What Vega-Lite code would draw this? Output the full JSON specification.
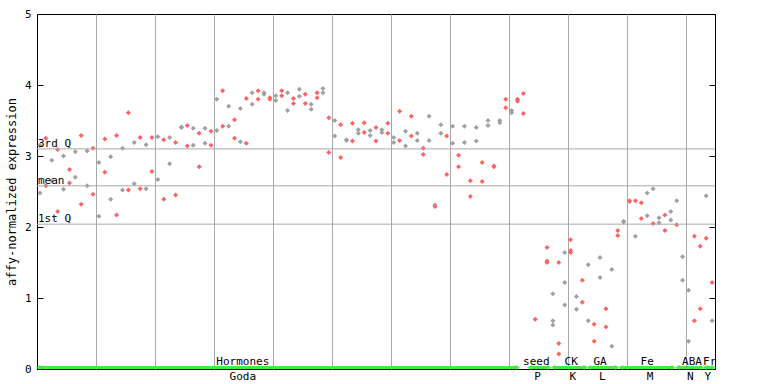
{
  "$schema": "https://vega.github.io/schema/vega-lite/v6.json",
  "width": 678,
  "height": 355,
  "autosize": {"type": "none"},
  "padding": {"left": 37, "top": 14, "right": 53, "bottom": 15},
  "background": "white",
  "config": {
    "view": {"stroke": "black", "strokeWidth": 1},
    "font": "DejaVu Sans Mono",
    "axis": {"labelFont": "DejaVu Sans Mono", "titleFont": "DejaVu Sans Mono", "labelColor": "black", "titleColor": "black", "tickColor": "black", "domainColor": "black"},
    "axisX": {"grid": true, "gridColor": "#a8a8a8", "gridOpacity": 1, "labels": false, "ticks": false, "domain": false}
  },
  "datasets": {
    "pts": [
      {"s":0,"v":3.15,"c":"g"},{"s":0,"v":2.48,"c":"g"},
      {"s":1,"v":3.25,"c":"r"},{"s":1,"v":2.58,"c":"r"},
      {"s":2,"v":2.94,"c":"g"},{"s":2,"v":2.65,"c":"g"},
      {"s":3,"v":3.09,"c":"r"},{"s":3,"v":2.22,"c":"r"},
      {"s":4,"v":3.00,"c":"g"},{"s":4,"v":2.53,"c":"g"},
      {"s":5,"v":2.81,"c":"r"},{"s":5,"v":2.62,"c":"r"},
      {"s":6,"v":3.06,"c":"g"},{"s":6,"v":2.70,"c":"g"},
      {"s":7,"v":3.29,"c":"r"},{"s":7,"v":2.32,"c":"r"},
      {"s":8,"v":3.07,"c":"g"},{"s":8,"v":2.58,"c":"g"},
      {"s":9,"v":3.11,"c":"r"},{"s":9,"v":2.46,"c":"r"},
      {"s":10,"v":2.91,"c":"g"},{"s":10,"v":2.15,"c":"g"},
      {"s":11,"v":3.24,"c":"r"},{"s":11,"v":2.77,"c":"r"},
      {"s":12,"v":2.99,"c":"g"},{"s":12,"v":2.39,"c":"g"},
      {"s":13,"v":3.29,"c":"r"},{"s":13,"v":2.17,"c":"r"},
      {"s":14,"v":3.11,"c":"g"},{"s":14,"v":2.52,"c":"g"},
      {"s":15,"v":3.61,"c":"r"},{"s":15,"v":2.52,"c":"r"},
      {"s":16,"v":3.19,"c":"g"},{"s":16,"v":2.61,"c":"g"},
      {"s":17,"v":3.26,"c":"r"},{"s":17,"v":2.54,"c":"r"},
      {"s":18,"v":3.16,"c":"g"},{"s":18,"v":2.54,"c":"g"},
      {"s":19,"v":3.26,"c":"r"},{"s":19,"v":2.78,"c":"r"},
      {"s":20,"v":3.27,"c":"g"},{"s":20,"v":2.67,"c":"g"},
      {"s":21,"v":3.23,"c":"r"},{"s":21,"v":2.39,"c":"r"},
      {"s":22,"v":3.26,"c":"g"},{"s":22,"v":2.89,"c":"g"},
      {"s":23,"v":3.19,"c":"r"},{"s":23,"v":2.45,"c":"r"},
      {"s":24,"v":3.41,"c":"g"},{"s":24,"v":3.40,"c":"g"},
      {"s":25,"v":3.43,"c":"r"},{"s":25,"v":3.14,"c":"r"},
      {"s":26,"v":3.39,"c":"g"},{"s":26,"v":3.15,"c":"g"},
      {"s":27,"v":3.32,"c":"r"},{"s":27,"v":2.85,"c":"r"},
      {"s":28,"v":3.39,"c":"g"},{"s":28,"v":3.18,"c":"g"},
      {"s":29,"v":3.35,"c":"r"},{"s":29,"v":3.15,"c":"r"},
      {"s":30,"v":3.80,"c":"g"},{"s":30,"v":3.36,"c":"g"},
      {"s":31,"v":3.92,"c":"r"},{"s":31,"v":3.42,"c":"r"},
      {"s":32,"v":3.70,"c":"g"},{"s":32,"v":3.42,"c":"g"},
      {"s":33,"v":3.51,"c":"r"},{"s":33,"v":3.25,"c":"r"},
      {"s":34,"v":3.67,"c":"g"},{"s":34,"v":3.20,"c":"g"},
      {"s":35,"v":3.81,"c":"r"},{"s":35,"v":3.18,"c":"r"},
      {"s":36,"v":3.89,"c":"g"},{"s":36,"v":3.73,"c":"g"},
      {"s":37,"v":3.92,"c":"r"},{"s":37,"v":3.80,"c":"r"},
      {"s":38,"v":3.89,"c":"g"},{"s":38,"v":3.87,"c":"g"},
      {"s":39,"v":3.82,"c":"r"},{"s":39,"v":3.80,"c":"r"},
      {"s":40,"v":3.85,"c":"g"},{"s":40,"v":3.78,"c":"g"},
      {"s":41,"v":3.92,"c":"r"},{"s":41,"v":3.85,"c":"r"},
      {"s":42,"v":3.89,"c":"g"},{"s":42,"v":3.64,"c":"g"},
      {"s":43,"v":3.81,"c":"r"},{"s":43,"v":3.74,"c":"r"},
      {"s":44,"v":3.94,"c":"g"},{"s":44,"v":3.84,"c":"g"},
      {"s":45,"v":3.87,"c":"r"},{"s":45,"v":3.74,"c":"r"},
      {"s":46,"v":3.73,"c":"g"},{"s":46,"v":3.66,"c":"g"},
      {"s":47,"v":3.89,"c":"r"},{"s":47,"v":3.82,"c":"r"},
      {"s":48,"v":3.95,"c":"g"},{"s":48,"v":3.89,"c":"g"},
      {"s":49,"v":3.54,"c":"r"},{"s":49,"v":3.05,"c":"r"},
      {"s":50,"v":3.50,"c":"g"},{"s":50,"v":3.28,"c":"g"},
      {"s":51,"v":3.44,"c":"r"},{"s":51,"v":2.98,"c":"r"},
      {"s":52,"v":3.23,"c":"g"},{"s":52,"v":3.22,"c":"g"},
      {"s":53,"v":3.46,"c":"r"},{"s":53,"v":3.21,"c":"r"},
      {"s":54,"v":3.37,"c":"g"},{"s":54,"v":3.32,"c":"g"},
      {"s":55,"v":3.47,"c":"r"},{"s":55,"v":3.33,"c":"r"},
      {"s":56,"v":3.36,"c":"g"},{"s":56,"v":3.29,"c":"g"},
      {"s":57,"v":3.40,"c":"r"},{"s":57,"v":3.21,"c":"r"},
      {"s":58,"v":3.37,"c":"g"},{"s":58,"v":3.33,"c":"g"},
      {"s":59,"v":3.46,"c":"r"},{"s":59,"v":3.32,"c":"r"},
      {"s":60,"v":3.26,"c":"g"},{"s":60,"v":3.19,"c":"g"},
      {"s":61,"v":3.63,"c":"r"},{"s":61,"v":3.22,"c":"r"},
      {"s":62,"v":3.35,"c":"g"},{"s":62,"v":3.14,"c":"g"},
      {"s":63,"v":3.56,"c":"r"},{"s":63,"v":3.28,"c":"r"},
      {"s":64,"v":3.32,"c":"g"},{"s":64,"v":3.22,"c":"g"},
      {"s":65,"v":3.11,"c":"r"},{"s":65,"v":3.02,"c":"r"},
      {"s":66,"v":3.56,"c":"g"},{"s":66,"v":3.22,"c":"g"},
      {"s":67,"v":2.31,"c":"g"},{"s":67,"v":2.29,"c":"r"},
      {"s":68,"v":3.44,"c":"g"},{"s":68,"v":3.32,"c":"g"},
      {"s":69,"v":3.28,"c":"r"},{"s":69,"v":2.74,"c":"r"},
      {"s":70,"v":3.42,"c":"g"},{"s":70,"v":3.18,"c":"g"},
      {"s":71,"v":3.01,"c":"r"},{"s":71,"v":2.85,"c":"r"},
      {"s":72,"v":3.42,"c":"g"},{"s":72,"v":3.19,"c":"g"},
      {"s":73,"v":2.65,"c":"r"},{"s":73,"v":2.43,"c":"r"},
      {"s":74,"v":3.40,"c":"g"},{"s":74,"v":3.21,"c":"g"},
      {"s":75,"v":2.91,"c":"r"},{"s":75,"v":2.64,"c":"r"},
      {"s":76,"v":3.50,"c":"g"},{"s":76,"v":3.43,"c":"g"},
      {"s":77,"v":2.86,"c":"r"},{"s":77,"v":2.85,"c":"r"},
      {"s":78,"v":3.50,"c":"g"},{"s":78,"v":3.47,"c":"g"},
      {"s":79,"v":3.80,"c":"r"},{"s":79,"v":3.68,"c":"r"},
      {"s":80,"v":3.64,"c":"g"},{"s":80,"v":3.61,"c":"g"},
      {"s":81,"v":3.80,"c":"r"},{"s":81,"v":3.77,"c":"r"},
      {"s":82,"v":3.88,"c":"r"},{"s":82,"v":3.60,"c":"r"},
      {"s":84,"v":0.70,"c":"r"},
      {"s":86,"v":1.71,"c":"r"},{"s":86,"v":1.52,"c":"r"},{"s":86,"v":1.50,"c":"r"},
      {"s":87,"v":1.06,"c":"g"},{"s":87,"v":0.68,"c":"g"},{"s":87,"v":0.62,"c":"g"},
      {"s":88,"v":1.50,"c":"r"},{"s":88,"v":0.36,"c":"r"},{"s":88,"v":0.21,"c":"r"},
      {"s":89,"v":1.64,"c":"g"},{"s":89,"v":1.22,"c":"g"},{"s":89,"v":0.90,"c":"g"},
      {"s":90,"v":1.82,"c":"r"},{"s":90,"v":1.67,"c":"r"},{"s":90,"v":1.64,"c":"r"},
      {"s":91,"v":1.02,"c":"g"},{"s":91,"v":0.84,"c":"g"},
      {"s":92,"v":1.25,"c":"r"},{"s":92,"v":0.94,"c":"r"},
      {"s":93,"v":1.47,"c":"g"},{"s":93,"v":0.68,"c":"g"},
      {"s":94,"v":0.63,"c":"r"},{"s":94,"v":0.39,"c":"r"},
      {"s":95,"v":1.57,"c":"g"},{"s":95,"v":1.29,"c":"g"},
      {"s":96,"v":0.85,"c":"r"},{"s":96,"v":0.59,"c":"r"},
      {"s":97,"v":1.40,"c":"g"},{"s":97,"v":0.32,"c":"g"},
      {"s":98,"v":1.95,"c":"r"},{"s":98,"v":1.88,"c":"r"},
      {"s":99,"v":2.08,"c":"g"},{"s":99,"v":2.07,"c":"g"},
      {"s":100,"v":2.37,"c":"r"},{"s":100,"v":2.36,"c":"r"},
      {"s":101,"v":2.37,"c":"r"},{"s":101,"v":1.87,"c":"g"},
      {"s":102,"v":2.34,"c":"r"},{"s":102,"v":2.12,"c":"r"},
      {"s":103,"v":2.48,"c":"g"},{"s":103,"v":2.16,"c":"g"},
      {"s":104,"v":2.54,"c":"g"},{"s":104,"v":2.05,"c":"r"},
      {"s":105,"v":2.13,"c":"g"},{"s":105,"v":2.06,"c":"g"},
      {"s":106,"v":2.17,"c":"r"},{"s":106,"v":1.95,"c":"r"},
      {"s":107,"v":2.22,"c":"g"},{"s":107,"v":2.10,"c":"g"},
      {"s":108,"v":2.37,"c":"g"},{"s":108,"v":2.03,"c":"r"},
      {"s":109,"v":1.58,"c":"g"},{"s":109,"v":1.25,"c":"g"},
      {"s":110,"v":1.11,"c":"g"},{"s":110,"v":0.39,"c":"g"},
      {"s":111,"v":1.87,"c":"r"},{"s":111,"v":0.68,"c":"r"},
      {"s":112,"v":1.73,"c":"r"},{"s":112,"v":0.85,"c":"r"},
      {"s":113,"v":2.44,"c":"g"},{"s":113,"v":1.84,"c":"r"},
      {"s":114,"v":1.22,"c":"r"},{"s":114,"v":0.68,"c":"g"}
    ],
    "q": [
      {"name":"3rd Q","v":3.10},
      {"name":"mean","v":2.58},
      {"name":"1st Q","v":2.04}
    ],
    "grp": [
      {"t1":"Hormones","t2":"Goda","a":-0.3,"b":81.1,"l1":34.4,"l2":34.4},
      {"t1":"seed","t2":"P","a":83.0,"b":86.4,"l1":84.2,"l2":84.4},
      {"t1":"CK","t2":"K","a":87.0,"b":92.6,"l1":90.1,"l2":90.4},
      {"t1":"GA","t2":"L","a":93.1,"b":97.9,"l1":95.0,"l2":95.4},
      {"t1":"Fe","t2":"M","a":98.5,"b":107.5,"l1":103.0,"l2":103.5},
      {"t1":"ABA","t2":"N","a":108.1,"b":112.3,"l1":110.6,"l2":110.3},
      {"t1":"Fr","t2":"Y","a":112.7,"b":114.3,"l1":113.6,"l2":113.3}
    ]
  },
  "resolve": {"axis": {"y": "independent"}},
  "layer": [
    {
      "data": {"name": "pts"},
      "mark": {"type": "point", "shape": "diamond", "filled": true, "size": 25, "opacity": 1},
      "encoding": {
        "x": {"field": "s", "type": "quantitative", "scale": {"domain": [-0.5, 114.5], "nice": false, "zero": false}, "title": null,
              "axis": {"values": [9.5,19.5,29.5,39.5,49.5,59.5,69.5,79.5,89.5,99.5,109.5], "title": null}},
        "y": {"field": "v", "type": "quantitative", "scale": {"domain": [0, 5], "nice": false},
              "axis": {"orient": "left", "values": [0,1,2,3,4,5], "tickSize": -6, "labelPadding": 12, "labelFontSize": 11, "domain": false, "grid": false, "title": "affy-normalized expression", "titleFontSize": 12, "titleFontWeight": "normal", "titlePadding": 6}},
        "color": {"field": "c", "type": "nominal", "scale": {"domain": ["r", "g"], "range": ["#ff6262", "#a0a0a0"]}, "legend": null}
      }
    },
    {
      "data": {"name": "q"},
      "mark": {"type": "rule", "color": "#a8a8a8", "strokeWidth": 1},
      "encoding": {
        "y": {"field": "v", "type": "quantitative",
              "axis": {"orient": "right", "values": [0,1,2,3,4,5], "labels": false, "tickSize": -6, "domain": false, "grid": false, "title": null}}
      }
    },
    {
      "data": {"name": "q"},
      "mark": {"type": "text", "align": "left", "baseline": "alphabetic", "dx": 1, "dy": -2, "fontSize": 11, "font": "DejaVu Sans Mono", "color": "black"},
      "encoding": {
        "x": {"datum": -0.5, "type": "quantitative", "title": null, "axis": {"values": [9.5,19.5,29.5,39.5,49.5,59.5,69.5,79.5,89.5,99.5,109.5], "title": null}},
        "y": {"field": "v", "type": "quantitative", "axis": null},
        "text": {"field": "name"}
      }
    },
    {
      "data": {"name": "grp"},
      "mark": {"type": "rule", "color": "#3cf03c", "strokeWidth": 3, "yOffset": -1.5},
      "encoding": {
        "x": {"field": "a", "type": "quantitative", "title": null, "axis": {"values": [9.5,19.5,29.5,39.5,49.5,59.5,69.5,79.5,89.5,99.5,109.5], "title": null}},
        "x2": {"field": "b"},
        "y": {"datum": 0, "type": "quantitative", "axis": null}
      }
    },
    {
      "data": {"name": "grp"},
      "mark": {"type": "point", "shape": "triangle-left", "filled": true, "size": 30, "color": "#3cf03c", "yOffset": -1.5},
      "encoding": {
        "x": {"field": "a", "type": "quantitative", "title": null, "axis": {"values": [9.5,19.5,29.5,39.5,49.5,59.5,69.5,79.5,89.5,99.5,109.5], "title": null}},
        "y": {"datum": 0, "type": "quantitative", "axis": null}
      }
    },
    {
      "data": {"name": "grp"},
      "mark": {"type": "point", "shape": "triangle-right", "filled": true, "size": 30, "color": "#3cf03c", "yOffset": -1.5},
      "encoding": {
        "x": {"field": "b", "type": "quantitative", "title": null, "axis": {"values": [9.5,19.5,29.5,39.5,49.5,59.5,69.5,79.5,89.5,99.5,109.5], "title": null}},
        "y": {"datum": 0, "type": "quantitative", "axis": null}
      }
    },
    {
      "data": {"name": "grp"},
      "mark": {"type": "text", "align": "center", "baseline": "alphabetic", "dy": -4, "fontSize": 11, "font": "DejaVu Sans Mono", "color": "black"},
      "encoding": {
        "x": {"field": "l1", "type": "quantitative", "title": null, "axis": {"values": [9.5,19.5,29.5,39.5,49.5,59.5,69.5,79.5,89.5,99.5,109.5], "title": null}},
        "y": {"datum": 0, "type": "quantitative", "axis": null},
        "text": {"field": "t1"}
      }
    },
    {
      "data": {"name": "grp"},
      "mark": {"type": "text", "align": "center", "baseline": "alphabetic", "dy": 11, "fontSize": 11, "font": "DejaVu Sans Mono", "color": "black"},
      "encoding": {
        "x": {"field": "l2", "type": "quantitative", "title": null, "axis": {"values": [9.5,19.5,29.5,39.5,49.5,59.5,69.5,79.5,89.5,99.5,109.5], "title": null}},
        "y": {"datum": 0, "type": "quantitative", "axis": null},
        "text": {"field": "t2"}
      }
    }
  ]
}
